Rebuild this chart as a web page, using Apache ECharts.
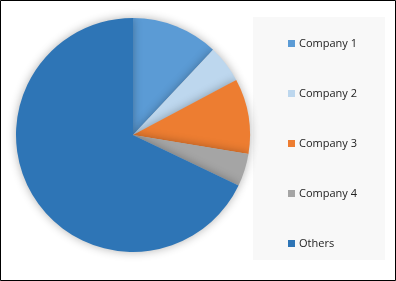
<!DOCTYPE html>
<html>
<head>
<meta charset="utf-8">
<script src="https://cdn.jsdelivr.net/npm/echarts@6/dist/echarts.min.js"></script>
<style>html,body{margin:0;padding:0;background:#fff}#c{width:396px;height:281px}</style>
</head>
<body>
<div id="c"></div>
<script>
const categories = ['Company 1', 'Company 2', 'Company 3', 'Company 4', 'Others'];
const values = [12, 5.2, 10.4, 4.5, 67.9];
const colors = ['#5B9BD5', '#BDD7EE', '#ED7D31', '#A5A5A5', '#2E75B6'];

const chart = echarts.init(document.getElementById('c'), null, {renderer: 'canvas'});
chart.setOption({
  animation: false,
  color: colors,
  graphic: [
    {type: 'rect', left: 0, top: 0, z: -10, shape: {x: 0.5, y: 0.5, width: 395, height: 280}, style: {fill: '#fff', stroke: '#000', lineWidth: 1}},
    {type: 'rect', z: -5, shape: {x: 253, y: 17, width: 132, height: 243}, style: {fill: '#f8f8f8'}}
  ],
  legend: {
    orient: 'vertical',
    left: 283,
    top: 31,
    itemWidth: 7,
    itemHeight: 7,
    itemGap: 35,
    icon: 'rect',
    textStyle: {fontFamily: 'Open Sans', fontSize: 11, color: '#222', lineHeight: 15, padding: [0,0,0,-1]},
    data: categories
  },
  series: [{
    type: 'pie',
    center: [133, 135],
    radius: 117,
    startAngle: 90,
    clockwise: true,
    label: {show: false},
    labelLine: {show: false},
    itemStyle: {shadowBlur: 10, shadowColor: 'rgba(0,0,0,0.3)', borderWidth: 0},
    emphasis: {disabled: true},
    data: categories.map((n, i) => ({name: n, value: values[i]}))
  }]
});
</script>
</body>
</html>
